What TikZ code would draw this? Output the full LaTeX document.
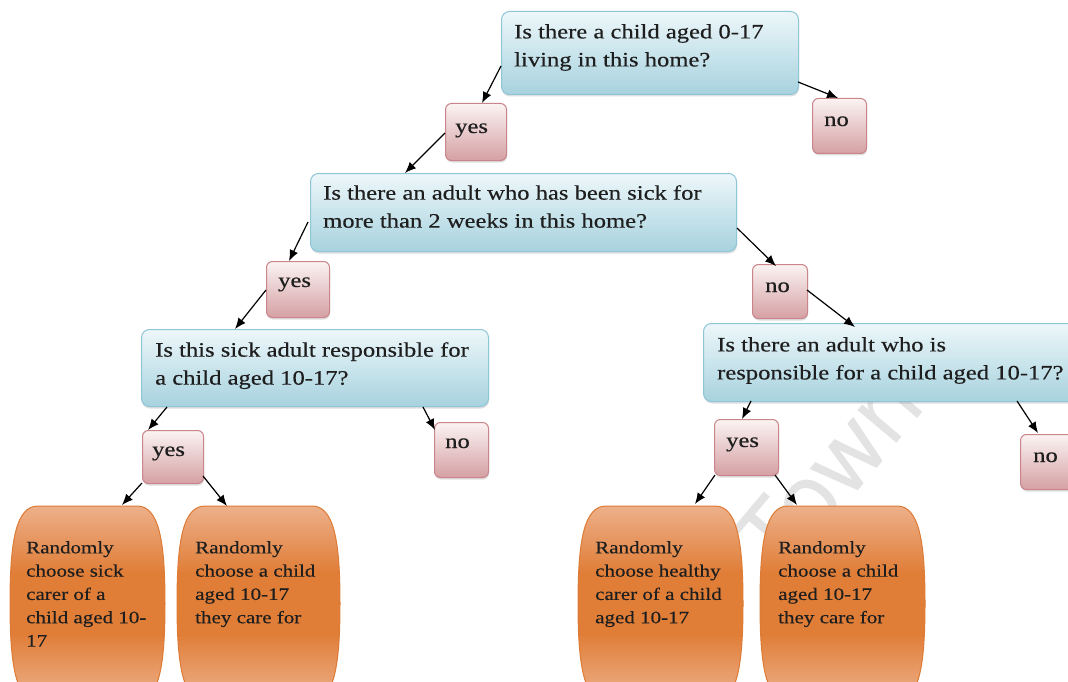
\documentclass[tikz,border=0pt]{standalone}
\usepackage{fontspec}
\setmainfont{Liberation Serif}[FakeStretch=1.2, FakeBold=0.35]
\newfontfamily\markfont{TeX Gyre Heros}
\usetikzlibrary{arrows.meta,shadows,calc}

\definecolor{qtop}{HTML}{EDF7FA}
\definecolor{qbot}{HTML}{A7D2DE}
\definecolor{qline}{HTML}{8EC6D8}
\definecolor{atop}{HTML}{FBF3F3}
\definecolor{abot}{HTML}{D5A0A3}
\definecolor{aline}{HTML}{C98589}
\definecolor{ltop}{HTML}{EDB08A}
\definecolor{lmid}{HTML}{E07E38}
\definecolor{lline}{HTML}{DD7A34}
\definecolor{ink}{HTML}{1E1E1E}

% light at the top and bottom, a broad deep band across the middle
\pgfdeclareverticalshading{leafshade}{100bp}{%
  color(0bp)=(ltop); color(25bp)=(ltop); color(33bp)=(ltop!55!lmid);
  color(42bp)=(lmid); color(58bp)=(lmid); color(70bp)=(ltop!70!lmid);
  color(75bp)=(ltop); color(100bp)=(ltop)}

\tikzset{
  qbox/.style={anchor=north west, inner sep=0pt, draw=qline, line width=1pt,
    rounded corners=8pt, top color=qtop, bottom color=qbot,
    drop shadow={shadow xshift=0.5pt, shadow yshift=-2pt, opacity=0.25}},
  ansbox/.style={anchor=north west, inner sep=0pt, draw=aline, line width=1pt,
    rounded corners=6pt, top color=atop, bottom color=abot,
    drop shadow={shadow xshift=0.5pt, shadow yshift=-2pt, opacity=0.25}},
  qtext/.style={anchor=north west, align=left, inner sep=0pt, text=ink,
    font=\fontsize{20.5}{28}\selectfont},
  atext/.style={anchor=base west, inner sep=0pt, text=ink,
    font=\fontsize{20.5}{28}\selectfont},
  leaftext/.style={anchor=north west, align=left, inner sep=0pt, text=ink,
    font=\fontsize{17.5}{23.3}\selectfont},
  leaf/.style={draw=lline, line width=1pt, shading=leafshade},
  link/.style={-{Latex[length=11pt,width=9pt]}, line width=1.2pt, draw=black},
}

% barrel-shaped outcome box: name, left x, top y, width, height
\newcommand\outcomebox[5]{%
  \node[anchor=north west, inner sep=0pt, minimum width=#4pt, minimum height=#5pt] (#1) at (#2,#3) {};
  \path[leaf] ({#2+28},#3) -- ({#2+#4-28},#3)
    .. controls ({#2+#4-6},#3) and ({#2+#4},{#3+35}) .. ({#2+#4},{#3+#5/2})
    .. controls ({#2+#4},{#3+#5-35}) and ({#2+#4-6},{#3+#5}) .. ({#2+#4-28},{#3+#5})
    -- ({#2+28},{#3+#5})
    .. controls ({#2+6},{#3+#5}) and (#2,{#3+#5-35}) .. (#2,{#3+#5/2})
    .. controls (#2,{#3+35}) and ({#2+6},#3) .. cycle;
}

\begin{document}
\begin{tikzpicture}[x=1pt, y=-1pt]
\clip (0,0) rectangle (1068,682);
\fill[white] (0,0) rectangle (1068,682);

% faint watermark
\node[rotate=50, text=black!11, font=\markfont\fontsize{97}{97}\selectfont, inner sep=0pt] (mark) at (828,472) {Town};

% question boxes
\node[qbox, minimum width=297pt, minimum height=83pt] (q1) at (501,11) {};
\node[qbox, minimum width=426pt, minimum height=78pt] (q2) at (310,173) {};
\node[qbox, minimum width=347pt, minimum height=77pt] (q3) at (141,329) {};
\node[qbox, minimum width=377pt, minimum height=78pt] (q4) at (703,323) {};

\node[qtext] (q1t) at ($(q1.north west)+(13,13)$) {Is there a child aged 0-17\\living in this home?};
\node[qtext] (q2t) at ($(q2.north west)+(13,12)$) {Is there an adult who has been sick for\\more than 2 weeks in this home?};
\node[qtext] (q3t) at ($(q3.north west)+(14,13)$) {Is this sick adult responsible for\\a child aged 10-17?};
\node[qtext] (q4t) at ($(q4.north west)+(14,14)$) {Is there an adult who is\\responsible for a child aged 10-17?};

% answer boxes
\node[ansbox, minimum width=61pt, minimum height=57pt] (yes1) at (445,103) {};
\node[ansbox, minimum width=54pt, minimum height=55pt] (no1) at (812,98) {};
\node[ansbox, minimum width=63pt, minimum height=56pt] (yes2) at (266,261) {};
\node[ansbox, minimum width=55pt, minimum height=54pt] (no2) at (752,264) {};
\node[ansbox, minimum width=61pt, minimum height=53pt] (yes3) at (142,430) {};
\node[ansbox, minimum width=54pt, minimum height=55pt] (no3) at (434,422) {};
\node[ansbox, minimum width=64pt, minimum height=56pt] (yes4) at (714,419) {};
\node[ansbox, minimum width=60pt, minimum height=55pt] (no4) at (1020,434) {};

\node[atext] (yes1t) at ($(yes1.north west)+(10,30)$) {yes};
\node[atext] (no1t) at ($(no1.north west)+(12,28)$) {no};
\node[atext] (yes2t) at ($(yes2.north west)+(12,26)$) {yes};
\node[atext] (no2t) at ($(no2.north west)+(13,28)$) {no};
\node[atext] (yes3t) at ($(yes3.north west)+(10,26)$) {yes};
\node[atext] (no3t) at ($(no3.north west)+(11,26)$) {no};
\node[atext] (yes4t) at ($(yes4.north west)+(12,28)$) {yes};
\node[atext] (no4t) at ($(no4.north west)+(13,28)$) {no};

% outcome boxes
\outcomebox{l1}{10}{506}{155}{195}
\outcomebox{l2}{177}{506}{163}{195}
\outcomebox{l3}{578}{506}{165}{195}
\outcomebox{l4}{760}{506}{165}{195}

\node[leaftext] (l1t) at ($(l1.north west)+(16,35)$) {Randomly\\choose sick\\carer of a\\child aged 10-\\17};
\node[leaftext] (l2t) at ($(l2.north west)+(18,35)$) {Randomly\\choose a child\\aged 10-17\\they care for};
\node[leaftext] (l3t) at ($(l3.north west)+(17,35)$) {Randomly\\choose healthy\\carer of a child\\aged 10-17};
\node[leaftext] (l4t) at ($(l4.north west)+(18,35)$) {Randomly\\choose a child\\aged 10-17\\they care for};

% connectors
\draw[link] ($(q1.north west)+(0,55)$) -- ($(yes1.north west)+(37,0)$);
\draw[link] ($(q1.north west)+(297,71)$) -- ($(no1.north west)+(26,0)$);
\draw[link] ($(yes1.north west)+(0,30)$) -- ($(q2.north west)+(95,0)$);
\draw[link] ($(q2.north west)+(-2,49)$) -- ($(yes2.north west)+(23,0)$);
\draw[link] ($(q2.north west)+(427,55)$) -- ($(no2.north west)+(24,2)$);
\draw[link] ($(yes2.north west)+(0,29)$) -- ($(q3.north west)+(94,0)$);
\draw[link] ($(q3.north west)+(26,78)$) -- ($(yes3.north west)+(6,0)$);
\draw[link] ($(q3.north west)+(282,78)$) -- ($(no3.north west)+(1,8)$);
\draw[link] ($(yes3.north west)+(0,53)$) -- ($(l1.north west)+(112,-1)$);
\draw[link] ($(yes3.north west)+(61,46)$) -- ($(l2.north west)+(50,0)$);
\draw[link] ($(no2.north west)+(55,26)$) -- ($(q4.north west)+(152,4)$);
\draw[link] ($(q4.north west)+(48,78)$) -- ($(yes4.north west)+(28,0)$);
\draw[link] ($(q4.north west)+(314,78)$) -- ($(no4.north west)+(18,-1)$);
\draw[link] ($(yes4.north west)+(1,56)$) -- ($(l3.north west)+(117,-2)$);
\draw[link] ($(yes4.north west)+(61,56)$) -- ($(l4.north west)+(37,-1)$);
\end{tikzpicture}
\end{document}
